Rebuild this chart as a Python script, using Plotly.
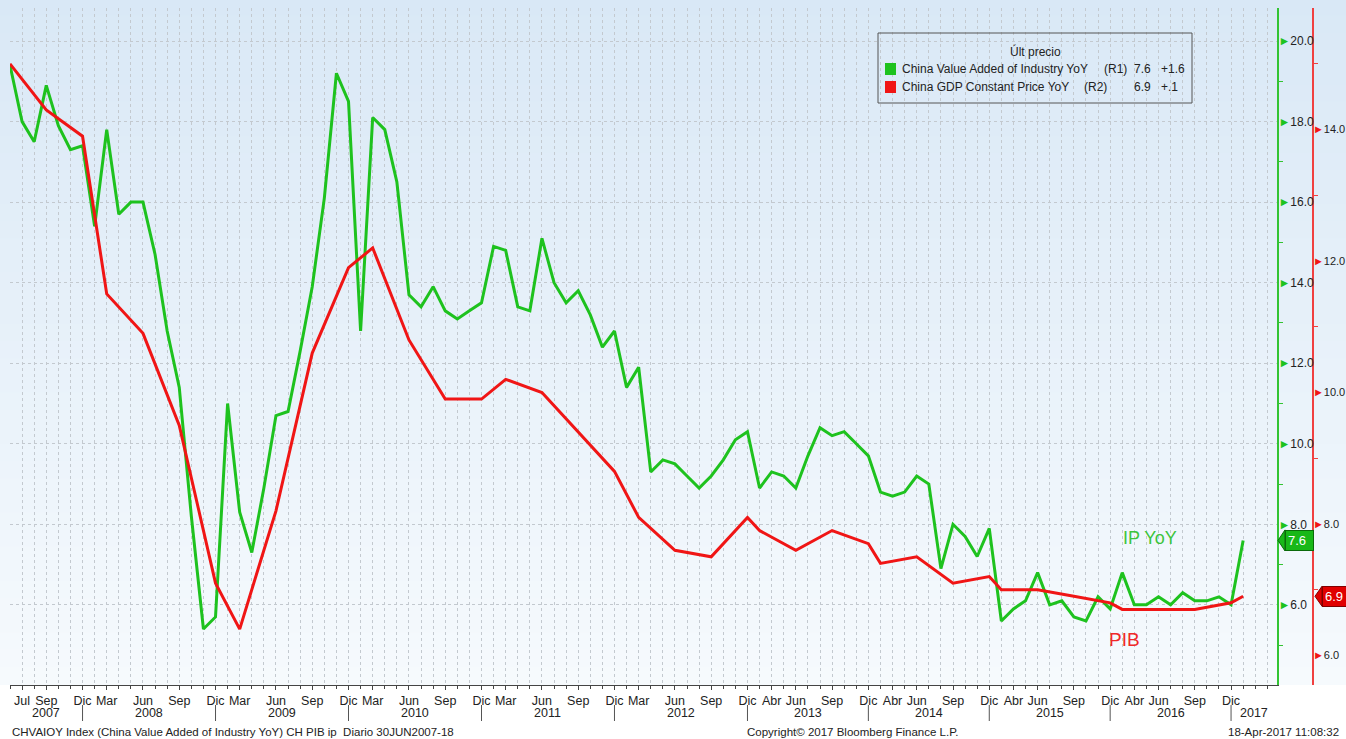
import plotly.graph_objects as go

# ---------------- data ----------------
ip_dates = [
    "2007-06", "2007-07", "2007-08", "2007-09", "2007-10", "2007-11", "2007-12",
    "2008-02", "2008-03", "2008-04", "2008-05", "2008-06", "2008-07", "2008-08", "2008-09", "2008-10", "2008-11", "2008-12",
    "2009-02", "2009-03", "2009-04", "2009-05", "2009-06", "2009-07", "2009-08", "2009-09", "2009-10", "2009-11", "2009-12",
    "2010-02", "2010-03", "2010-04", "2010-05", "2010-06", "2010-07", "2010-08", "2010-09", "2010-10", "2010-11", "2010-12",
    "2011-02", "2011-03", "2011-04", "2011-05", "2011-06", "2011-07", "2011-08", "2011-09", "2011-10", "2011-11", "2011-12",
    "2012-02", "2012-03", "2012-04", "2012-05", "2012-06", "2012-07", "2012-08", "2012-09", "2012-10", "2012-11", "2012-12",
    "2013-03", "2013-04", "2013-05", "2013-06", "2013-07", "2013-08", "2013-09", "2013-10", "2013-11", "2013-12",
    "2014-03", "2014-04", "2014-05", "2014-06", "2014-07", "2014-08", "2014-09", "2014-10", "2014-11", "2014-12",
    "2015-03", "2015-04", "2015-05", "2015-06", "2015-07", "2015-08", "2015-09", "2015-10", "2015-11", "2015-12",
    "2016-03", "2016-04", "2016-05", "2016-06", "2016-07", "2016-08", "2016-09", "2016-10", "2016-11", "2016-12",
    "2017-03",
]
ip_values = [
    19.4, 18.0, 17.5, 18.9, 17.9, 17.3, 17.4,
    15.4, 17.8, 15.7, 16.0, 16.0, 14.7, 12.8, 11.4, 8.2, 5.4, 5.7,
    11.0, 8.3, 7.3, 8.9, 10.7, 10.8, 12.3, 13.9, 16.1, 19.2, 18.5,
    12.8, 18.1, 17.8, 16.5, 13.7, 13.4, 13.9, 13.3, 13.1, 13.3, 13.5,
    14.9, 14.8, 13.4, 13.3, 15.1, 14.0, 13.5, 13.8, 13.2, 12.4, 12.8,
    11.4, 11.9, 9.3, 9.6, 9.5, 9.2, 8.9, 9.2, 9.6, 10.1, 10.3,
    8.9, 9.3, 9.2, 8.9, 9.7, 10.4, 10.2, 10.3, 10.0, 9.7,
    8.8, 8.7, 8.8, 9.2, 9.0, 6.9, 8.0, 7.7, 7.2, 7.9,
    5.6, 5.9, 6.1, 6.8, 6.0, 6.1, 5.7, 5.6, 6.2, 5.9,
    6.8, 6.0, 6.0, 6.2, 6.0, 6.3, 6.1, 6.1, 6.2, 6.0,
    7.6,
]
gdp_dates = [
    "2007-06", "2007-09", "2007-12",
    "2008-03", "2008-06", "2008-09", "2008-12",
    "2009-03", "2009-06", "2009-09", "2009-12",
    "2010-03", "2010-06", "2010-09", "2010-12",
    "2011-03", "2011-06", "2011-09", "2011-12",
    "2012-03", "2012-06", "2012-09", "2012-12",
    "2013-03", "2013-06", "2013-09", "2013-12",
    "2014-03", "2014-06", "2014-09", "2014-12",
    "2015-03", "2015-06", "2015-09", "2015-12",
    "2016-03", "2016-06", "2016-09", "2016-12",
    "2017-03",
]
gdp_values = [
    15.0, 14.3, 13.9,
    11.5, 10.9, 9.5, 7.1,
    6.4, 8.2, 10.6, 11.9,
    12.2, 10.8, 9.9, 9.9,
    10.2, 10.0, 9.4, 8.8,
    8.1, 7.6, 7.5, 8.1,
    7.9, 7.6, 7.9, 7.7,
    7.4, 7.5, 7.1, 7.2,
    7.0, 7.0, 6.9, 6.8,
    6.7, 6.7, 6.7, 6.8,
    6.9,
]
month_ticks = [
    ("2007-07", "Jul"), ("2007-09", "Sep"), ("2007-12", "Dic"),
    ("2008-03", "Mar"), ("2008-06", "Jun"), ("2008-09", "Sep"), ("2008-12", "Dic"),
    ("2009-03", "Mar"), ("2009-06", "Jun"), ("2009-09", "Sep"), ("2009-12", "Dic"),
    ("2010-03", "Mar"), ("2010-06", "Jun"), ("2010-09", "Sep"), ("2010-12", "Dic"),
    ("2011-03", "Mar"), ("2011-06", "Jun"), ("2011-09", "Sep"), ("2011-12", "Dic"),
    ("2012-03", "Mar"), ("2012-06", "Jun"), ("2012-09", "Sep"), ("2012-12", "Dic"),
    ("2013-04", "Abr"), ("2013-06", "Jun"), ("2013-09", "Sep"), ("2013-12", "Dic"),
    ("2014-04", "Abr"), ("2014-06", "Jun"), ("2014-09", "Sep"), ("2014-12", "Dic"),
    ("2015-04", "Abr"), ("2015-06", "Jun"), ("2015-09", "Sep"), ("2015-12", "Dic"),
    ("2016-04", "Abr"), ("2016-06", "Jun"), ("2016-09", "Sep"), ("2016-12", "Dic"),
]
years = ["2007", "2008", "2009", "2010", "2011", "2012", "2013", "2014", "2015", "2016", "2017"]
ip_ticks = [6, 8, 10, 12, 14, 16, 18, 20]
gdp_ticks = [6, 8, 10, 12, 14]

ip_name = "China Value Added of Industry YoY"
gdp_name = "China GDP Constant Price YoY"
footer_left = "CHVAIOY Index (China Value Added of Industry YoY) CH PIB ip  Diario 30JUN2007-18"
footer_mid = "Copyright\u00a9 2017 Bloomberg Finance L.P."
footer_right = "18-Apr-2017 11:08:32"

# ---------------- layout helpers ----------------
OFF = 0  # page body margin is removed by the post script below
W, H = 1346, 739
ML, MR, MT, MB = 10, 0, 8, 54
GREEN = "#1ec21e"
RED = "#f01515"
FONT = "Liberation Sans, Arial, sans-serif"


def xp(px):  # screen pixel -> paper x
    return (px - OFF - ML) / (W - ML - MR)


def yp(py):  # screen pixel -> paper y
    return (H - MB - (py - OFF)) / (H - MT - MB)


X_MAX = 104.8
idx = {d: i for i, d in enumerate(ip_dates)}
ip_x = list(range(len(ip_dates)))
gdp_x = [idx[d] for d in gdp_dates]

fig = go.Figure()
fig.add_trace(go.Scatter(x=ip_x, y=ip_values, mode="lines", yaxis="y",
                         line=dict(color=GREEN, width=3), showlegend=False, name=ip_name))
fig.add_trace(go.Scatter(x=gdp_x, y=gdp_values, mode="lines", yaxis="y2",
                         line=dict(color=RED, width=3), showlegend=False, name=gdp_name))

shapes = []
# background gradient
n = 40
top_c = (217, 232, 246)
bot_c = (246, 250, 253)
for i in range(n):
    t = (i + 0.5) / n
    c = tuple(int(round(top_c[k] + (bot_c[k] - top_c[k]) * t)) for k in range(3))
    y_top = yp(0) - yp(0) * i / n
    y_bot = yp(0) - yp(0) * (i + 1) / n
    shapes.append(dict(type="rect", xref="paper", yref="paper", x0=xp(0), x1=1.0,
                       y0=y_bot, y1=y_top + 0.002, fillcolor="rgb(%d,%d,%d)" % c,
                       line=dict(width=0), layer="below"))

# year separators
dec_idx = [idx[y + "-12"] for y in years if (y + "-12") in idx]
for d in dec_idx:
    shapes.append(dict(type="line", xref="x", yref="paper", x0=d, x1=d,
                       y0=yp(721), y1=yp(705), line=dict(color="#555", width=1)))

# legend box & swatches
shapes.append(dict(type="rect", xref="paper", yref="paper", x0=xp(878), x1=xp(1192),
                   y0=yp(103), y1=yp(33), line=dict(color="#555", width=1), fillcolor="rgba(0,0,0,0)"))
shapes.append(dict(type="rect", xref="paper", yref="paper", x0=xp(885), x1=xp(896),
                   y0=yp(75), y1=yp(63), line=dict(width=0), fillcolor=GREEN))
shapes.append(dict(type="rect", xref="paper", yref="paper", x0=xp(885), x1=xp(896),
                   y0=yp(93), y1=yp(81), line=dict(width=0), fillcolor=RED))

# badge arrows
ip_last = ip_values[-1]
gdp_last = gdp_values[-1]
dv1 = 10.5 / 40.3
dv2 = 10.0 / 65.75
shapes.append(dict(type="path", xref="paper", yref="y",
                   path="M %f,%f L %f,%f L %f,%f Z" % (xp(1278), ip_last, xp(1285), ip_last + dv1, xp(1285), ip_last - dv1),
                   fillcolor="#18b818", line=dict(color="#0a6a0a", width=1)))
shapes.append(dict(type="path", xref="paper", yref="y2",
                   path="M %f,%f L %f,%f L %f,%f Z" % (xp(1315), gdp_last, xp(1322), gdp_last + dv2, xp(1322), gdp_last - dv2),
                   fillcolor="#e00000", line=dict(color="#800000", width=1)))

ann = []
# year labels
bounds = [0] + dec_idx + [X_MAX]
for i, y in enumerate(years):
    ann.append(dict(xref="x", yref="paper", x=(bounds[i] + bounds[i + 1]) / 2, y=0, yshift=-28,
                    text=y, showarrow=False, yanchor="middle",
                    font=dict(family=FONT, size=12.5, color="#222")))
# footer
ann.append(dict(xref="paper", yref="paper", x=xp(10), y=0, yshift=-47, xanchor="left", yanchor="middle",
                text=footer_left, showarrow=False, font=dict(family=FONT, size=11.5, color="#222")))
ann.append(dict(xref="paper", yref="paper", x=xp(853), y=0, yshift=-47, xanchor="center", yanchor="middle",
                text=footer_mid, showarrow=False, font=dict(family=FONT, size=11.5, color="#222")))
ann.append(dict(xref="paper", yref="paper", x=xp(1341), y=0, yshift=-47, xanchor="right", yanchor="middle",
                text=footer_right, showarrow=False, font=dict(family=FONT, size=11.5, color="#222")))
# legend text
lf = dict(family=FONT, size=12, color="#222")
ann.append(dict(xref="paper", yref="paper", x=xp(1035), y=yp(51), text="\u00dalt precio",
                showarrow=False, xanchor="center", yanchor="middle", font=lf))
ann.append(dict(xref="paper", yref="paper", x=xp(900), y=yp(69), text=ip_name,
                showarrow=False, xanchor="left", yanchor="middle", font=lf))
ann.append(dict(xref="paper", yref="paper", x=xp(900), y=yp(87), text=gdp_name,
                showarrow=False, xanchor="left", yanchor="middle", font=lf))
ann.append(dict(xref="paper", yref="paper", x=xp(1102), y=yp(69), text="(R1)",
                showarrow=False, xanchor="left", yanchor="middle", font=lf))
ann.append(dict(xref="paper", yref="paper", x=xp(1082), y=yp(87), text="(R2)",
                showarrow=False, xanchor="left", yanchor="middle", font=lf))
ip_chg = ip_values[-1] - ip_values[-2]
gdp_chg = gdp_values[-1] - gdp_values[-2]
ann.append(dict(xref="paper", yref="paper", x=xp(1153), y=yp(69), text="%.1f" % ip_last,
                showarrow=False, xanchor="right", yanchor="middle", font=lf))
ann.append(dict(xref="paper", yref="paper", x=xp(1153), y=yp(87), text="%.1f" % gdp_last,
                showarrow=False, xanchor="right", yanchor="middle", font=lf))
ann.append(dict(xref="paper", yref="paper", x=xp(1159), y=yp(69), text="%+.1f" % ip_chg,
                showarrow=False, xanchor="left", yanchor="middle", font=lf))
ann.append(dict(xref="paper", yref="paper", x=xp(1159), y=yp(87),
                text=("%+.1f" % gdp_chg).replace("0.", "."),
                showarrow=False, xanchor="left", yanchor="middle", font=lf))
# series labels
ann.append(dict(xref="x", yref="y", x=94.3, y=7.66, text="IP YoY", showarrow=False,
                font=dict(family=FONT, size=18, color="#3cc43c")))
ann.append(dict(xref="x", yref="y", x=92.2, y=5.13, text="PIB", showarrow=False,
                font=dict(family=FONT, size=19, color="#f02828")))
# badges
ann.append(dict(xref="paper", yref="y", x=xp(1285), y=ip_last, text="%.1f" % ip_last, showarrow=False,
                xanchor="left", yanchor="middle", bgcolor="#18b818", bordercolor="#0a6a0a", borderwidth=1,
                borderpad=2, width=23, align="left", font=dict(family=FONT, size=13, color="white")))
ann.append(dict(xref="paper", yref="y2", x=xp(1322), y=gdp_last, text="%.1f" % gdp_last, showarrow=False,
                xanchor="left", yanchor="middle", bgcolor="#e00000", bordercolor="#800000", borderwidth=1,
                borderpad=2, width=20, align="left", font=dict(family=FONT, size=13, color="white")))

grid_c = "#c3c9cf"
fig.update_layout(
    width=W, height=H,
    margin=dict(l=ML, r=MR, t=MT, b=MB, autoexpand=False),
    paper_bgcolor="white",
    plot_bgcolor="rgba(0,0,0,0)",
    font=dict(family=FONT, size=12, color="#222"),
    showlegend=False,
    xaxis=dict(
        domain=[0, xp(1277)], range=[0, X_MAX], automargin=False,
        tickmode="array",
        tickvals=[idx[d] for d, _ in month_ticks],
        ticktext=[l for _, l in month_ticks],
        ticks="outside", ticklen=4, tickcolor="#444",
        showline=True, linecolor="#444", linewidth=1,
        showgrid=True, gridcolor=grid_c, griddash="dot", gridwidth=1,
        minor=dict(tickmode="array", tickvals=list(range(0, 105)), ticks="outside", ticklen=3,
                   tickcolor="#444", showgrid=True, gridcolor=grid_c, griddash="dot", gridwidth=1),
        tickfont=dict(family=FONT, size=12.5, color="#222"),
        zeroline=False,
    ),
    yaxis=dict(
        side="right", anchor="x", range=[4.01, 20.82], automargin=False,
        tickmode="array", tickvals=ip_ticks,
        ticktext=['<span style="color:%s">\u25ba</span>%.1f' % (GREEN, v) for v in ip_ticks],
        ticks="", showline=True, linecolor="#33c433", linewidth=2,
        showgrid=True, gridcolor=grid_c, griddash="dot", gridwidth=1,
        minor=dict(tickmode="array", tickvals=[5, 7, 9, 11, 13, 15, 17, 19], ticks="outside",
                   ticklen=4, tickcolor="#33c433", showgrid=False),
        tickfont=dict(family=FONT, size=12, color="#222"),
        ticklabelstandoff=-3,
        zeroline=False,
    ),
    yaxis2=dict(
        overlaying="y", side="right", anchor="free", position=xp(1313), range=[5.55, 15.85],
        automargin=False,
        tickmode="array", tickvals=gdp_ticks,
        ticktext=['<span style="color:%s">\u25ba</span>%.1f' % (RED, v) for v in gdp_ticks],
        ticks="", showline=True, linecolor="#f04040", linewidth=1.5,
        showgrid=False,
        minor=dict(tickmode="array", tickvals=[7, 9, 11, 13, 15], ticks="outside",
                   ticklen=4, tickcolor="#f04040", showgrid=False),
        tickfont=dict(family=FONT, size=11, color="#222"),
        ticklabelstandoff=-3,
        zeroline=False,
    ),
    shapes=shapes,
    annotations=ann,
)

fig.write_html("out.html",
               config={"displayModeBar": False},
               post_script="document.body.style.margin='0';document.body.style.overflow='hidden';")
